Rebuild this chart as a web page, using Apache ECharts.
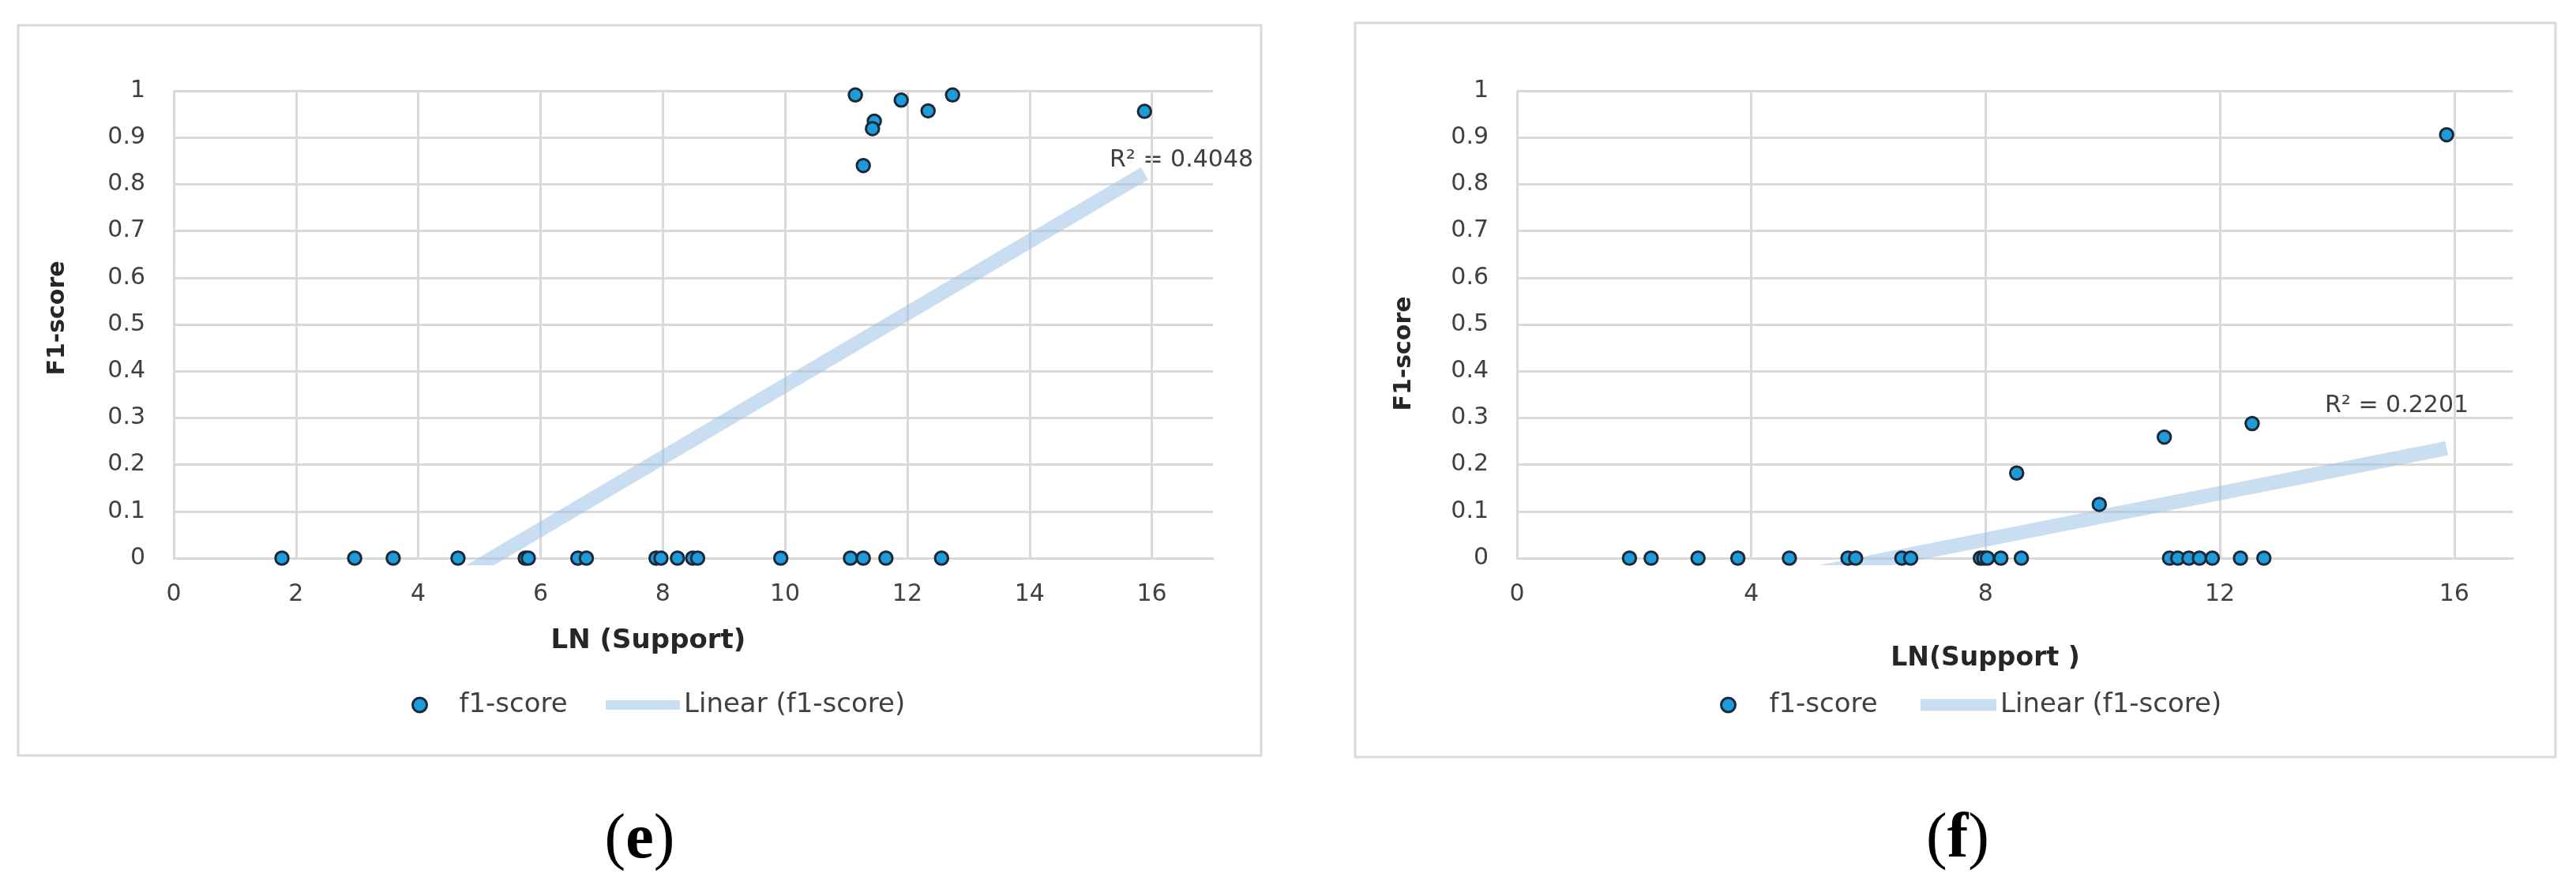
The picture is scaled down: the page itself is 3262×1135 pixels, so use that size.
<!DOCTYPE html>
<html>
<head>
<meta charset="utf-8">
<script src="https://cdn.jsdelivr.net/npm/echarts@6/dist/echarts.min.js"></script>
<style>
html,body{margin:0;padding:0;background:#ffffff;}
#chart{width:3262px;height:1135px;}
</style>
</head>
<body>
<div id="chart"></div>
<script>
// ---------- Panel (e) data ----------
const eSupportLn = [1.77, 2.96, 3.59, 4.65, 5.75, 5.80, 6.61, 6.75, 7.89, 7.97, 8.24, 8.49, 8.57, 9.93, 11.07, 11.28, 11.65, 12.56,
                    11.15, 11.46, 11.43, 11.28, 11.90, 12.34, 12.74, 15.88];
const eF1 = [0, 0, 0, 0, 0, 0, 0, 0, 0, 0, 0, 0, 0, 0, 0, 0, 0, 0,
             0.991, 0.935, 0.919, 0.840, 0.980, 0.957, 0.991, 0.956];
const eTrendLn = [1.77, 15.88];
const eTrendF1 = [-0.265, 0.823];
const eR2Label = 'R² = 0.4048';

// ---------- Panel (f) data ----------
const fSupportLn = [1.92, 2.29, 3.09, 3.77, 4.65, 5.65, 5.78, 6.57, 6.72, 7.91, 7.97, 8.03, 8.26, 8.61,
                    11.14, 11.28, 11.47, 11.65, 11.87, 12.35, 12.75,
                    8.53, 9.94, 11.05, 12.55, 15.87];
const fF1 = [0, 0, 0, 0, 0, 0, 0, 0, 0, 0, 0, 0, 0, 0,
             0, 0, 0, 0, 0, 0, 0,
             0.182, 0.115, 0.259, 0.288, 0.906];
const fTrendLn = [1.92, 15.87];
const fTrendF1 = [-0.111, 0.235];
const fR2Label = 'R² = 0.2201';

// ---------- Axis settings ----------
const xMin = 0, xMax = 17;
const eXStep = 2, fXStep = 4;
const yMin = 0, yMax = 1, yStep = 0.1;

const seriesName = 'f1-score';
const trendName = 'Linear (f1-score)';
const eXTitle = 'LN (Support)';
const fXTitle = 'LN(Support )';
const yTitle = 'F1-score';
const eCaption = 'e';
const fCaption = 'f';

// ---------- Styles ----------
const FONT = "'DejaVu Sans', 'Open Sans', sans-serif";
const BOLD_FONT = "'DejaVu Sans', 'Open Sans', sans-serif";
const GRID_C = '#d9d9d9';
const TEXT_C = '#404040';
const DOT_FILL = '#1E9BDB';
const DOT_EDGE = '#1C2836';
const TREND_C = 'rgba(157,195,230,0.55)';
const TREND_SOLID = '#c9def1';

const pairs = (xs, ys) => xs.map((x, i) => [x, ys[i]]);

function xAxisCfg(gridIndex, step) {
  return {
    gridIndex, type: 'value', min: xMin, max: xMax, interval: step,
    axisLine: { show: true, lineStyle: { color: GRID_C, width: 3 } },
    axisTick: { show: false },
    splitLine: { show: true, showMaxLine: false, lineStyle: { color: GRID_C, width: 3 } },
    axisLabel: {
      showMaxLabel: false,
      formatter: v => (Math.abs(v % step) < 1e-9 ? String(v) : ''),
      fontSize: 30, color: TEXT_C, fontFamily: FONT, margin: 31
    }
  };
}
function yAxisCfg(gridIndex) {
  return {
    gridIndex, type: 'value', min: yMin, max: yMax, interval: yStep,
    axisLine: { show: false },
    axisTick: { show: false },
    splitLine: { show: true, lineStyle: { color: GRID_C, width: 3 } },
    axisLabel: {
      formatter: v => '{v|' + String(Math.round(v * 10) / 10) + '}{s|}',
      fontSize: 30, color: TEXT_C, fontFamily: FONT, margin: 12,
      rich: {
        v: { fontSize: 30, color: TEXT_C, fontFamily: FONT },
        s: { width: 24, height: 10 }
      }
    }
  };
}
function scatterCfg(idx, xs, ys) {
  return {
    name: seriesName, type: 'scatter', xAxisIndex: idx, yAxisIndex: idx,
    data: pairs(xs, ys), symbol: 'circle', symbolSize: 16.5, z: 4,
    itemStyle: { color: DOT_FILL, borderColor: DOT_EDGE, borderWidth: 3, opacity: 1 },
    emphasis: { disabled: true }
  };
}
function trendCfg(idx, xs, ys) {
  return {
    name: trendName, type: 'line', xAxisIndex: idx, yAxisIndex: idx,
    data: pairs(xs, ys), showSymbol: false, symbol: 'none', clip: true, z: 2,
    lineStyle: { color: TREND_C, width: 18, cap: 'butt' },
    itemStyle: { color: TREND_SOLID },
    emphasis: { disabled: true }, silent: true
  };
}
function legendCfg(left, name, icon, w, h, style) {
  return {
    left, top: 876, padding: 0, orient: 'horizontal', selectedMode: false,
    itemWidth: w, itemHeight: h,
    data: [{ name, icon, itemStyle: style }],
    textStyle: { fontSize: 34, color: TEXT_C, fontFamily: FONT }
  };
}
function txt(x, y, text, opts) {
  return {
    type: 'text', x, y, rotation: opts.rotation || 0, silent: true,
    style: {
      text, fill: opts.fill || TEXT_C, fontSize: opts.fontSize, fontWeight: opts.fontWeight || 'normal',
      fontFamily: opts.fontFamily || FONT, align: opts.align || 'center', verticalAlign: 'middle'
    }
  };
}
function caption(x, y, letter) {
  return {
    type: 'text', x, y, silent: true,
    style: {
      text: '{p|(}{l|' + letter + '}{p|)}',
      align: 'center', verticalAlign: 'middle', fill: '#000',
      rich: {
        p: { fontSize: 80, fontFamily: "'Liberation Serif', serif", fill: '#000' },
        l: { fontSize: 80, fontFamily: "'Liberation Serif', serif", fontWeight: 'bold', fill: '#000' }
      }
    }
  };
}

const dotStyle = { color: DOT_FILL, borderColor: DOT_EDGE, borderWidth: 3 };
const swatchStyle = { color: TREND_SOLID, borderWidth: 0 };

const option = {
  backgroundColor: '#ffffff',
  animation: false,
  grid: [
    { left: 220, top: 115, width: 1316, height: 592 },
    { left: 1921, top: 115, width: 1261, height: 592 }
  ],
  xAxis: [xAxisCfg(0, eXStep), xAxisCfg(1, fXStep)],
  yAxis: [yAxisCfg(0), yAxisCfg(1)],
  legend: [
    legendCfg(521, seriesName, 'circle', 90, 18, dotStyle),
    legendCfg(767, trendName, 'rect', 94, 12, swatchStyle),
    legendCfg(2178, seriesName, 'circle', 94, 18, dotStyle),
    legendCfg(2432, trendName, 'rect', 96, 15, swatchStyle)
  ],
  series: [
    trendCfg(0, eTrendLn, eTrendF1),
    scatterCfg(0, eSupportLn, eF1),
    trendCfg(1, fTrendLn, fTrendF1),
    scatterCfg(1, fSupportLn, fF1)
  ],
  graphic: [
    { type: 'rect', silent: true, shape: { x: 23, y: 32, width: 1574, height: 925 },
      style: { fill: 'none', stroke: GRID_C, lineWidth: 3 } },
    { type: 'rect', silent: true, shape: { x: 1716, y: 29, width: 1520, height: 930 },
      style: { fill: 'none', stroke: GRID_C, lineWidth: 3 } },
    txt(73, 403, yTitle, { rotation: Math.PI / 2, fontSize: 30, fontWeight: 'bold', fontFamily: BOLD_FONT, fill: '#262626' }),
    txt(1778, 448, yTitle, { rotation: Math.PI / 2, fontSize: 30, fontWeight: 'bold', fontFamily: BOLD_FONT, fill: '#262626' }),
    txt(821, 812, eXTitle, { fontSize: 34, fontWeight: 'bold', fontFamily: BOLD_FONT, fill: '#262626' }),
    txt(2514, 834, fXTitle, { fontSize: 33, fontWeight: 'bold', fontFamily: BOLD_FONT, fill: '#262626' }),
    txt(1405, 203, eR2Label, { fontSize: 30, align: 'left' }),
    txt(2944, 514, fR2Label, { fontSize: 30, align: 'left' }),
    caption(810, 1065, eCaption),
    caption(2479, 1064, fCaption)
  ]
};

const chart = echarts.init(document.getElementById('chart'), null, { renderer: 'canvas' });
chart.setOption(option);
</script>
</body>
</html>
